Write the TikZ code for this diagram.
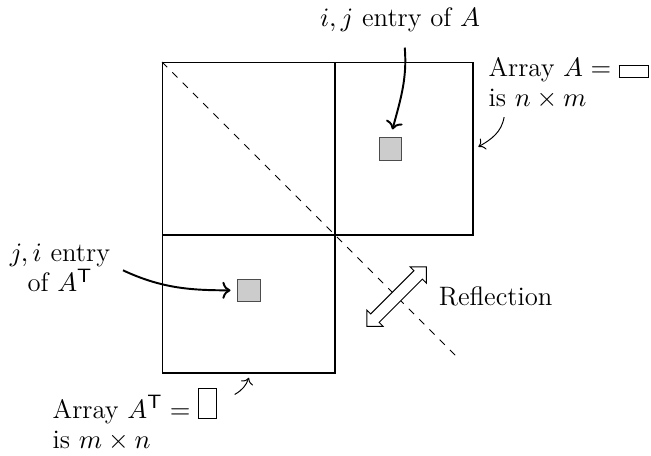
\documentclass[tikz,border=0pt]{standalone}
\usepackage{amsmath,amssymb}
\usepackage{tikz}
\usetikzlibrary{positioning, arrows.meta, shapes.arrows}

% little icons for the array shapes
\newcommand{\wideicon}{{\setlength{\fboxsep}{0pt}\fbox{\rule{0pt}{1.6mm}\hspace{4.2mm}}}}
\newcommand{\tallicon}{{\setlength{\fboxsep}{0pt}\fbox{\rule{0pt}{4.3mm}\hspace{2.5mm}}}}

\begin{document}
\begin{tikzpicture}[
                every node/.style={font=\fontsize{11}{12.3}\selectfont},
                array/.style={rectangle, draw=black, line width=0.5pt, inner sep=0pt, anchor=north west},
                cell/.style={rectangle, draw=black!70, fill=black!20, minimum size=0.32cm, inner sep=0pt},
                entryarrow/.style={->, thick},
                notearrow/.style={->, thin},
                reflect/.style={double arrow, draw=black, fill=white, double arrow head extend=0.08cm,
                                double arrow tip angle=90, minimum height=1.22cm, inner sep=0.08cm, rotate=45}
            ]
                \useasboundingbox (-2.35,0.9) rectangle (7.09,-5.71);

                % --- ARRAYS ---
                \node[array, minimum width=4.5cm, minimum height=2.5cm] (arrA) at (0,0) {};
                \node[array, minimum width=2.5cm, minimum height=4.5cm] (arrAT) at (0,0) {};

                % Diagonal
                \coordinate (diagEnd) at (4.3,-4.3);
                \draw[dashed] (arrA.north west) -- (diagEnd);

                % --- ENTRIES ---
                \node[cell] (cellA) at (3.31,-1.26) {};
                \node[cell] (cellAT) at (1.26,-3.31) {};

                \node (ijlab) at (3.45,0.61) {$i,j$ entry of $A$};
                \node[align=center] (jilab) at (-1.48,-2.99) {$j,i$ entry\\of $A^{\mathsf{T}}$};

                \draw[entryarrow, shorten <=1mm, shorten >=1.2mm] ([xshift=0.6mm]ijlab.south) to[out=-85, in=75] (cellA.north);
                \draw[entryarrow, shorten <=0.7mm, shorten >=1mm] (jilab.east) to[out=-25, in=180] (cellAT.west);

                % --- SHAPE NOTES ---
                \node[align=left, anchor=north west] (labA) at (4.61,0.19) {Array $A = \wideicon$\\is $n \times m$};
                \node[align=left, anchor=north west] (labAT) at (-1.71,-4.60) {Array $A^{\mathsf{T}} = \tallicon$\\is $m \times n$};

                \draw[notearrow] ([xshift=3.5mm]labA.south west) to[out=-100, in=30] ([xshift=0.7mm, yshift=0.3mm]arrA.east);
                \draw[notearrow] ([xshift=1.3mm, yshift=-2.2mm]labAT.north east) to[out=30, in=-110] ([yshift=-0.6mm]arrAT.south);

                % --- REFLECTION ---
                \node[reflect] (refl) at (3.4,-3.4) {};
                \node[right=4.9mm of refl.center] (refllab) {Reflection};

                \end{tikzpicture}
\end{document}
